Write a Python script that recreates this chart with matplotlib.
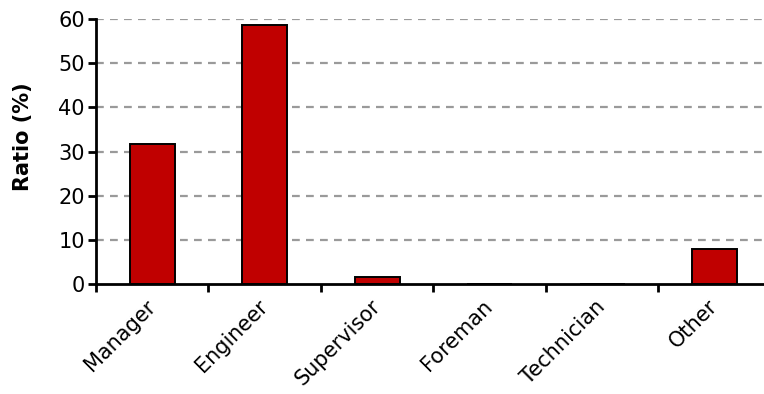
import matplotlib.pyplot as plt
import numpy as np

# Share of respondents by job position
positions = ['Manager', 'Engineer', 'Supervisor', 'Foreman', 'Technician', 'Other']
ratios = [31.7, 58.7, 1.6, 0.0, 0.0, 8.0]
y_ticks = [0, 10, 20, 30, 40, 50, 60]

plt.rcParams['font.family'] = ['DejaVu Sans']

fig = plt.figure(figsize=(7.64, 3.94), dpi=100)
ax = fig.add_axes([96 / 764, 110 / 394, 668 / 764, 265 / 394])

x = np.arange(len(positions))
ax.bar(x, ratios, width=0.4, color='#C00000', edgecolor='black', linewidth=1.4, zorder=3)

# dashed horizontal grid, skipping the baseline
for yv in y_ticks[1:]:
    ax.axhline(yv, color='#9a9a9a', linestyle=(0, (3.5, 2.8)), linewidth=1.6, zorder=1)

ax.set_xlim(-0.5, len(positions) - 0.5 - 0.06)
ax.set_ylim(0, 60)
ax.set_yticks(y_ticks)
ax.tick_params(axis='y', labelsize=15, direction='out', length=6, width=2, pad=2)

# tick marks between categories, labels under the bars
ax.set_xticks(np.arange(-0.5, len(positions) - 1, 1.0))
ax.set_xticklabels([])
ax.set_xticks(x, minor=True)
ax.set_xticklabels(positions, minor=True, rotation=45, ha='right', va='center',
                   rotation_mode='anchor', fontsize=15)
ax.tick_params(axis='x', which='major', direction='out', length=6, width=2)
ax.tick_params(axis='x', which='minor', length=0, pad=14)

for side in ['top', 'right']:
    ax.spines[side].set_visible(False)
for side in ['left', 'bottom']:
    ax.spines[side].set_linewidth(2)
    ax.spines[side].set_zorder(4)

ax.set_ylabel('Ratio (%)', fontsize=15, fontweight='bold')
ax.yaxis.set_label_coords(-0.094, 0.555)

fig.savefig('out.png', dpi=100, facecolor='white')
